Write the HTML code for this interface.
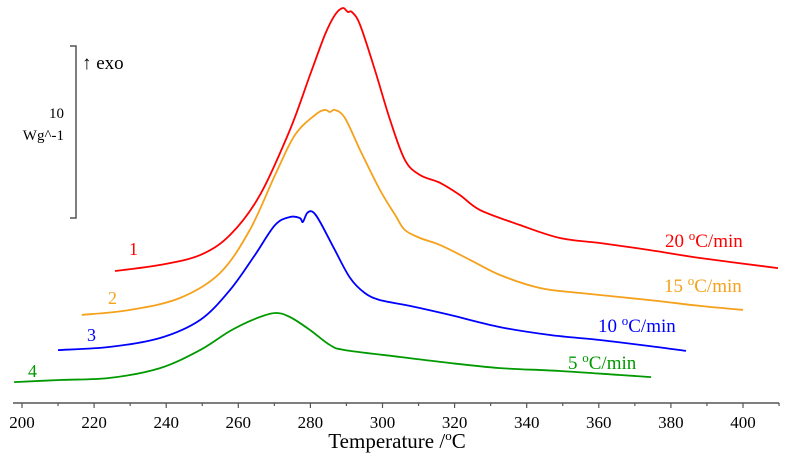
<!DOCTYPE html>
<html><head><meta charset="utf-8"><style>
html,body{margin:0;padding:0;background:#fff;}
svg{display:block;font-family:"Liberation Serif",serif;}
</style></head><body>
<svg id="chart" width="793" height="468" viewBox="0 0 793 468">
  <g id="axis"></g>
  <g id="series"></g>
  <g>
    <polyline points="70,46 76,46 76,218 70,218" fill="none" stroke="#555" stroke-width="1.5"/>
    <text x="82" y="69" font-size="19" fill="#000">↑ exo</text>
    <text x="64" y="118" font-size="15" text-anchor="end" fill="#000">10</text>
    <text x="64" y="140" font-size="15" text-anchor="end" fill="#000">Wg^-1</text>
  </g>
  <text x="397" y="448" font-size="21" text-anchor="middle">Temperature /<tspan font-size="13" dy="-8">o</tspan><tspan dy="8">C</tspan></text>
  <g>
    <text x="129" y="255" font-size="18" fill="#f00">1</text>
    <text x="108" y="304" font-size="18" fill="#f5a11b">2</text>
    <text x="87" y="341" font-size="18" fill="#00f">3</text>
    <text x="28" y="377" font-size="18" fill="#090">4</text>
    <text x="665" y="247" font-size="19" fill="#f00">20 <tspan font-size="13" dy="-7">o</tspan><tspan dy="7">C/min</tspan></text>
    <text x="664" y="292" font-size="19" fill="#f5a11b">15 <tspan font-size="13" dy="-7">o</tspan><tspan dy="7">C/min</tspan></text>
    <text x="598" y="332" font-size="19" fill="#00f">10 <tspan font-size="13" dy="-7">o</tspan><tspan dy="7">C/min</tspan></text>
    <text x="568" y="369" font-size="19" fill="#090">5 <tspan font-size="13" dy="-7">o</tspan><tspan dy="7">C/min</tspan></text>
  </g>
</svg>
<script>
const xTicks = [200,220,240,260,280,300,320,340,360,380,400];
const redT = [225.8,238.3,249.4,257.7,266.0,274.3,279.9,284.0,286.8,289.0,290.4,291.5,293.8,297.9,302.1,306.2,310.4,316.0,321.5,327.0,338.1,349.2,360.3,374.2,388.1,409.7];
const redV = [7.63,7.98,8.55,9.71,12.02,15.78,18.96,21.27,22.43,22.83,22.60,22.60,21.85,19.25,16.36,14.05,13.18,12.72,12.02,11.16,10.29,9.54,9.25,8.84,8.38,7.80];
const orangeT = [216.6,230.0,243.8,254.9,263.2,270.2,275.7,281.3,284.0,285.4,286.8,289.6,293.8,299.3,303.5,306.2,310.4,316.0,324.3,332.6,343.7,354.8,374.2,388.1,400.0];
const orangeV = [5.09,5.38,6.07,7.51,10.0,13.18,15.49,16.65,16.94,16.82,16.94,16.47,14.62,12.31,10.87,10.0,9.54,9.13,8.27,7.40,6.65,6.36,5.95,5.61,5.38];
const blueT = [210.0,224.4,238.3,249.4,257.7,264.6,270.2,274.3,277.1,277.9,279.1,280.7,282.7,286.8,291.0,295.1,299.3,307.6,318.7,332.6,346.5,360.3,374.2,384.2];
const blueV = [3.06,3.24,3.76,4.80,6.53,8.55,10.29,10.75,10.69,10.46,10.98,11.04,10.46,8.84,7.23,6.36,5.95,5.61,5.09,4.39,3.93,3.64,3.29,3.01];
const greenT = [197.8,210.5,224.4,238.3,249.4,257.7,264.6,270.2,274.3,279.9,285.4,289.6,304.9,318.7,332.6,349.2,365.9,374.5];
const greenV = [1.21,1.33,1.45,2.02,3.06,4.16,4.86,5.20,4.97,4.22,3.35,3.06,2.66,2.31,2.02,1.85,1.62,1.50];

const NS = "http://www.w3.org/2000/svg";
const X0 = 22, PX = 3.605, Y0 = 403, PY = 17.3;
function xS(t){ return X0 + (t - 200) * PX; }
function yS(v){ return Y0 - v * PY; }

const axis = document.getElementById('axis');
const base = document.createElementNS(NS,'line');
base.setAttribute('x1',13); base.setAttribute('x2',xS(410)); base.setAttribute('y1',Y0); base.setAttribute('y2',Y0);
base.setAttribute('stroke','#555'); base.setAttribute('stroke-width','1.5');


axis.appendChild(base);
for (let t = 200; t <= 410; t += 10) {
  const tk = document.createElementNS(NS,'line');
  tk.setAttribute('x1',xS(t)); tk.setAttribute('x2',xS(t)); tk.setAttribute('y1',Y0); tk.setAttribute('y2',Y0+(t%20===0?5:3));
  tk.setAttribute('stroke','#555'); tk.setAttribute('stroke-width','1.2');
  
  
  axis.appendChild(tk);
}
xTicks.forEach(t => {
  const tx = document.createElementNS(NS,'text');
  tx.setAttribute('x', xS(t)); tx.setAttribute('y', 428);
  tx.setAttribute('font-size','17'); tx.setAttribute('text-anchor','middle');
  tx.textContent = t;
  
  
  axis.appendChild(tx);
});

const seriesG = document.getElementById('series');
function smoothPath(pts){
  let d = 'M' + pts[0][0].toFixed(1) + ',' + pts[0][1].toFixed(1);
  for (let i = 0; i < pts.length - 1; i++) {
    const p0 = pts[i-1] || pts[i], p1 = pts[i], p2 = pts[i+1], p3 = pts[i+2] || p2;
    const c1x = p1[0] + (p2[0]-p0[0])/6, c1y = p1[1] + (p2[1]-p0[1])/6;
    const c2x = p2[0] - (p3[0]-p1[0])/6, c2y = p2[1] - (p3[1]-p1[1])/6;
    d += ' C' + c1x.toFixed(1)+','+c1y.toFixed(1)+' '+c2x.toFixed(1)+','+c2y.toFixed(1)+' '+p2[0].toFixed(1)+','+p2[1].toFixed(1);
  }
  return d;
}
function draw(T, V, color, name){
  const p = document.createElementNS(NS,'path');
  p.setAttribute('d', smoothPath(T.map((t,i)=>[xS(t), yS(V[i])])));
  p.setAttribute('fill','none'); p.setAttribute('stroke',color); p.setAttribute('stroke-width','1.8');
  p.setAttribute('stroke-linejoin','round');
  
  
  seriesG.appendChild(p);
}
draw(redT, redV, '#f00', 'curve-20-c-min');
draw(orangeT, orangeV, '#f5a11b', 'curve-15-c-min');
draw(blueT, blueV, '#00f', 'curve-10-c-min');
draw(greenT, greenV, '#090', 'curve-5-c-min');
</script>
</body></html>
